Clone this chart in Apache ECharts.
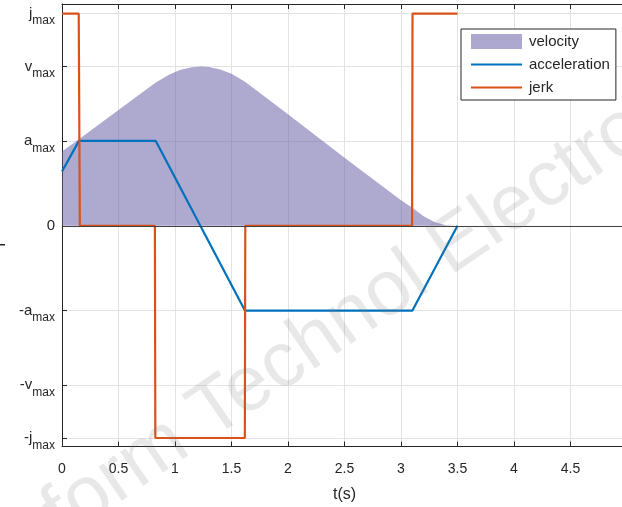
<!DOCTYPE html>
<html><head><meta charset="utf-8">
<script src="https://cdn.jsdelivr.net/npm/echarts@6/dist/echarts.min.js"></script>
<style>html,body{margin:0;padding:0;background:#fff;overflow:hidden}#c{width:622px;height:507px}</style>
</head><body><div id="c"></div>
<script>
// ---- data ----
const yTickValues = [10, 7.5, 4, 0, -4, -7.5, -10];
const yTickMain   = ['j', 'v', 'a', '0', '-a', '-v', '-j'];
const yTickSub    = ['max', 'max', 'max', '', 'max', 'max', 'max'];

const velocityT = [0, 0.15, 0.5, 0.83, 0.95, 1.05, 1.15, 1.23, 1.3, 1.4, 1.5, 1.62, 2.0, 2.5, 3.0, 3.1, 3.2, 3.3, 3.4, 3.5];
const velocityV = [3.5, 4.08, 5.45, 6.75, 7.13, 7.35, 7.47, 7.5, 7.48, 7.36, 7.16, 6.79, 5.25, 3.2, 1.2, 0.85, 0.45, 0.17, 0.03, 0];

const accelT = [0, 0.15, 0.83, 1.62, 3.1, 3.5];
const accelV = [2.56, 4, 4, -4, -4, 0];

const jerkT = [0, 0.148, 0.158, 0.822, 0.826, 1.618, 1.622, 3.098, 3.102, 3.5];
const jerkV = [10, 10, 0, 0, -10, -10, 0, 0, 10, 10];

const seriesNames = ['velocity', 'acceleration', 'jerk'];
const xAxisName = 't(s)';
const watermark = 'form Technol Electro';

// ---- chart ----
const FONT = 'Liberation Sans, Arial, Helvetica, sans-serif';
const DARK = '#262626';
const GRIDC = '#e3e3e3';
const zip = (a, b) => a.map((v, i) => [v, b[i]]);
// legend line icon: thin stripe in the middle of a 51x15 box (tiny corner marks keep the box size)
const LINE_ICON = 'path://M0,0 L0.01,0 L0,0.01 Z M0,6.5 L51,6.5 L51,8.5 L0,8.5 Z M51,15 L50.99,15 L51,14.99 Z';

const chart = echarts.init(document.getElementById('c'), null, {renderer: 'canvas'});
const yFormatter = function (v) {
  let i = yTickValues.findIndex(t => Math.abs(t - v) < 1e-6);
  if (i < 0) return '';
  return yTickSub[i] ? '{m|' + yTickMain[i] + '}{s|' + yTickSub[i] + '}' : '{m|' + yTickMain[i] + '}';
};

const option = {
  animation: false,
  backgroundColor: '#fff',
  grid: {left: 62, top: 4, width: 565, height: 442.5, containLabel: false, outerBoundsMode: 'none'},
  xAxis: [{
    type: 'value', min: 0, max: 5, interval: 0.5, position: 'bottom',
    name: xAxisName, nameLocation: 'middle', nameGap: 40,
    nameTextStyle: {fontFamily: FONT, fontSize: 16, color: DARK},
    axisLine: {show: true, onZero: false, lineStyle: {color: DARK, width: 1}},
    axisTick: {show: true, inside: true, length: 5, lineStyle: {color: DARK}},
    axisLabel: {fontFamily: FONT, fontSize: 14, color: DARK, margin: 16},
    splitLine: {show: true, lineStyle: {color: GRIDC, width: 1}}
  }, {
    type: 'value', min: 0, max: 5, interval: 0.5, position: 'top',
    axisLine: {show: true, onZero: false, lineStyle: {color: DARK, width: 1}},
    axisTick: {show: true, inside: true, length: 5, lineStyle: {color: DARK}},
    axisLabel: {show: false}, splitLine: {show: false}
  }],
  yAxis: [{
    type: 'value', min: -10.4, max: 10.45, position: 'left',
    axisLine: {show: true, onZero: false, lineStyle: {color: DARK, width: 1}},
    axisTick: {show: true, inside: true, length: 5, customValues: yTickValues, lineStyle: {color: DARK}},
    axisLabel: {
      customValues: yTickValues, formatter: yFormatter, margin: 7,
      rich: {
        m: {fontFamily: FONT, fontSize: 15, color: DARK},
        s: {fontFamily: FONT, fontSize: 12, color: DARK, padding: [15, 0, 0, 0]}
      }
    },
    splitLine: {show: true, lineStyle: {color: GRIDC, width: 1}}
  }, {
    type: 'value', min: -10.4, max: 10.45, position: 'right',
    axisLine: {show: true, onZero: false, lineStyle: {color: DARK, width: 1}},
    axisTick: {show: true, inside: true, length: 5, customValues: yTickValues, lineStyle: {color: DARK}},
    axisLabel: {show: false, customValues: yTickValues}, splitLine: {show: false}
  }],
  legend: {
    orient: 'vertical', left: 461, top: 29,
    padding: [5, 6, 5, 10], itemGap: 8, itemWidth: 51, itemHeight: 15,
    backgroundColor: '#fff', borderColor: DARK, borderWidth: 1, borderRadius: 0,
    textStyle: {fontFamily: FONT, fontSize: 15, color: DARK, padding: [0, 0, 0, 2]},
    data: [
      {name: seriesNames[0], icon: 'rect', itemStyle: {color: '#aca8cf', opacity: 1}},
      {name: seriesNames[1], icon: LINE_ICON, itemStyle: {color: '#0072BD'}},
      {name: seriesNames[2], icon: LINE_ICON, itemStyle: {color: '#D95319'}}
    ]
  },
  series: [{
    name: seriesNames[0], type: 'line', data: zip(velocityT, velocityV),
    symbol: 'none', smooth: false,
    lineStyle: {width: 0, color: 'rgba(92,84,160,0.5)'},
    itemStyle: {color: 'rgba(92,84,160,0.5)'},
    areaStyle: {color: 'rgba(92,84,160,0.5)', opacity: 1, origin: 0},
    markLine: {
      silent: true, symbol: 'none', label: {show: false},
      lineStyle: {color: '#404040', width: 1, type: 'solid'},
      data: [{yAxis: 0}]
    },
    z: 1
  }, {
    name: seriesNames[1], type: 'line', data: zip(accelT, accelV),
    symbol: 'none', lineStyle: {color: '#0072BD', width: 2.2}, itemStyle: {color: '#0072BD'}, z: 3
  }, {
    name: seriesNames[2], type: 'line', data: zip(jerkT, jerkV),
    symbol: 'none', lineStyle: {color: '#D95319', width: 2.2}, itemStyle: {color: '#D95319'}, z: 4
  }],
  graphic: [{
    type: 'text', x: 345, y: 322, rotation: 0.6, z: 100, silent: true,
    style: {text: watermark, font: '78px ' + FONT, fill: 'rgba(120,120,120,0.17)', align: 'center', verticalAlign: 'middle'}
  }, {
    type: 'rect', shape: {x: 0, y: 244, width: 5, height: 1.5}, style: {fill: DARK}, silent: true
  }]
};
chart.setOption(option);
</script>
</body></html>
